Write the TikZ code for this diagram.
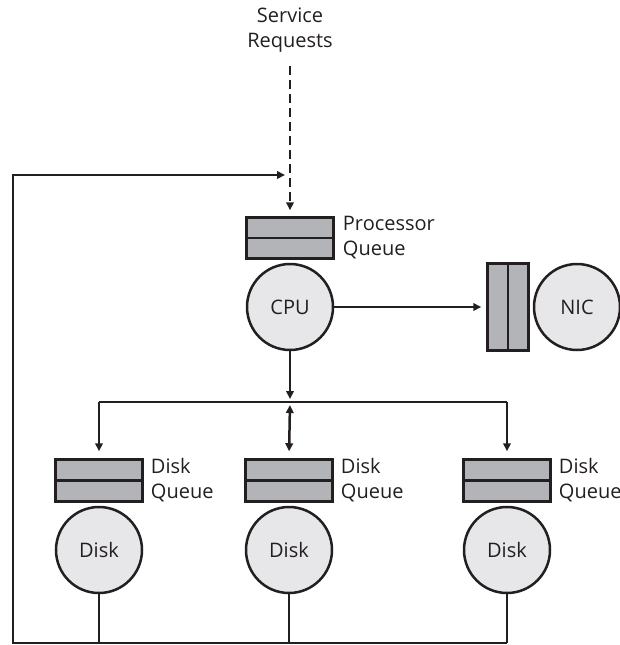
\documentclass[tikz,border=0pt]{standalone}
\usepackage{fontspec}
\setmainfont{Open Sans}
\usetikzlibrary{positioning}
\usetikzlibrary{arrows.meta}
\definecolor{mline}{HTML}{231F20}
\definecolor{mqueue}{HTML}{B3B4B8}
\definecolor{mdisk}{HTML}{E7E7E9}
\tikzset{queue/.style = {draw=mline, fill=mqueue, line width=2.5, minimum width=87, minimum height=42, inner sep=0}}
\tikzset{server/.style = {draw=mline, fill=mdisk, circle, line width=2.5, minimum size=86, inner sep=0, text=mline, font=\fontsize{20}{25}\selectfont}}
\tikzset{lbl/.style = {align=left, inner sep=0, text=mline, font=\fontsize{20}{25}\selectfont}}
\tikzset{conn/.style = {mline, line width=2.5, -{Triangle[length=8,width=7.5]}}}

\begin{document}
\begin{tikzpicture}[x=1pt, y=-1pt]
      \useasboundingbox (0,0) rectangle (620,645);
      \node (svc) [lbl, align=center] at (290,30) {Service\\Requests};
      % processor
      \node (pq) [queue, minimum height=41] at (290,238) {};
      \draw [mline, line width=2.5] (pq.west) -- (pq.east);
      \node (pql) [lbl, right=8 of pq] {Processor\\Queue};
      \node (cpu) [server] at (290,307) {CPU};
      % network
      \node (nq) [queue, minimum width=41, minimum height=87] at (508,307) {};
      \draw [mline, line width=2.5] (nq.north) -- (nq.south);
      \node (nic) [server] at (577,307) {NIC};
      % disks
      \foreach \i/\x in {1/99, 2/289, 3/507} {
        \node (dq\i) [queue] at (\x,480.5) {};
        \draw [mline, line width=2.5] (dq\i.west) -- (dq\i.east);
        \node (dql\i) [lbl, right=7 of dq\i] {Disk\\Queue};
        \node (d\i) [server] at (\x,550) {Disk};
      }
      \coordinate (sv) at (290,66);
      \coordinate (fb) at (290,175);
      \coordinate (jn) at (290,402);
      \coordinate (bl) at (13,643);
      \draw [conn, dash pattern=on 9 off 5, shorten >=6] (sv) -- (pq.north);
      \draw [conn, shorten >=5] (cpu) -- (nq);
      \draw [conn, shorten >=3] (cpu.south) -- (jn);
      \draw [mline, line width=2.5] (dq1.north |- jn) -- (dq3.north |- jn);
      \draw [conn, shorten >=7] (dq1.north |- jn) -- (dq1.north);
      \draw [conn, shorten >=7] (dq3.north |- jn) -- (dq3.north);
      \draw [conn, {Triangle[length=8,width=7.5]}-{Triangle[length=8,width=7.5]}, shorten <=3, shorten >=7]
        (jn) -- (dq2.north);
      % return path
      \foreach \i in {1,2,3}
        \draw [mline, line width=2.5] (d\i.south) -- (d\i.south |- bl);
      \draw [conn, shorten >=5] (d3.south |- bl) -- (bl) |- (fb);
    \end{tikzpicture}
\end{document}
